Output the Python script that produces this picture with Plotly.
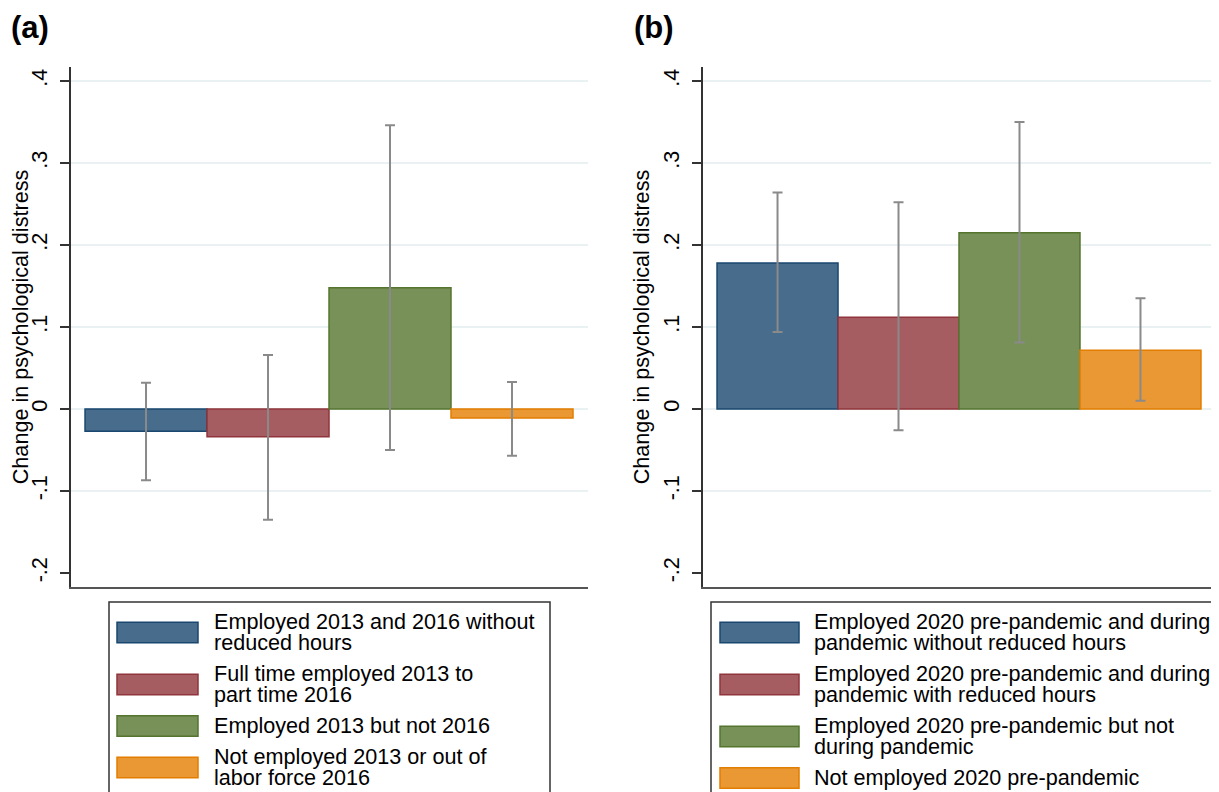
import plotly.graph_objects as go

# the page body has an 8px margin, so the figure starts at (8, 8) in the window
OFF = 8
W, H = 1219 - OFF, 792 - OFF

# ---------------- data ----------------
categories = [1, 2, 3, 4]
panel_titles = ["(a)", "(b)"]
y_title = "Change in psychological distress"
tick_vals = [-0.2, -0.1, 0, 0.1, 0.2, 0.3, 0.4]
tick_text = ["-.2", "-.1", "0", ".1", ".2", ".3", ".4"]
grid_vals = [-0.1, 0, 0.1, 0.2, 0.3, 0.4]

a_values = [-0.027, -0.034, 0.148, -0.011]
a_lower = [-0.087, -0.135, -0.050, -0.057]
a_upper = [0.032, 0.066, 0.346, 0.033]
a_labels = [
    "Employed 2013 and 2016 without\nreduced hours",
    "Full time employed 2013 to\npart time 2016",
    "Employed 2013 but not 2016",
    "Not employed 2013 or out of\nlabor force 2016",
]

b_values = [0.178, 0.112, 0.215, 0.0715]
b_lower = [0.094, -0.026, 0.081, 0.010]
b_upper = [0.264, 0.252, 0.350, 0.135]
b_labels = [
    "Employed 2020 pre-pandemic and during\npandemic without reduced hours",
    "Employed 2020 pre-pandemic and during\npandemic with reduced hours",
    "Employed 2020 pre-pandemic but not\nduring pandemic",
    "Not employed 2020 pre-pandemic",
]

fill_colors = ["#486c8c", "#a65d62", "#779159", "#e99833"]
line_colors = ["#1a476f", "#90353b", "#55752f", "#e37e00"]

FONT = "Liberation Sans, Arial, Helvetica, sans-serif"
FS = 21.6


def px(x):
    return (x - OFF) / W


def py(y):
    return 1 - (y - OFF) / H


fig = go.Figure()

panels = [
    dict(vals=a_values, lo=a_lower, hi=a_upper, labels=a_labels,
         xa="x", ya="y", x0=71, x1=588, xr=[0.385, 4.623],
         leg=(109, 550, 117, 198, 212)),
    dict(vals=b_values, lo=b_lower, hi=b_upper, labels=b_labels,
         xa="x2", ya="y2", x0=703, x1=1219, xr=[0.384, 4.649],
         leg=(711, 1215, 720, 799, 812)),
]

y_top, y_bot = 67, 587
y_range = [-0.2171, 0.4171]

shapes = []
annotations = []

for i, p in enumerate(panels):
    plus = [h - v for h, v in zip(p["hi"], p["vals"])]
    minus = [v - l for v, l in zip(p["vals"], p["lo"])]
    fig.add_trace(go.Bar(
        x=categories, y=p["vals"], width=1,
        marker=dict(color=fill_colors, line=dict(color=line_colors, width=1.5)),
        error_y=dict(type="data", symmetric=False, array=plus, arrayminus=minus,
                     color="#8a8a8a", thickness=2, width=5),
        xaxis=p["xa"], yaxis=p["ya"], showlegend=False, hoverinfo="skip",
    ))

    sfx = "" if i == 0 else "2"
    gsfx = str(3 + i)
    fig.layout["xaxis" + sfx] = dict(
        domain=[px(p["x0"]), px(p["x1"])], range=p["xr"], anchor="y" + sfx,
        showline=True, linecolor="#555555", linewidth=1.5, mirror=False,
        showticklabels=False, ticks="", showgrid=False, zeroline=False,
    )
    fig.layout["yaxis" + sfx] = dict(
        domain=[py(y_bot), py(y_top)], range=y_range, anchor="x" + sfx,
        tickmode="array", tickvals=tick_vals, ticktext=tick_text,
        tickangle=-90, ticks="outside", ticklen=9, tickwidth=1.5, tickcolor="#333333",
        ticklabelstandoff=5,
        tickfont=dict(family=FONT, size=FS, color="black"),
        showline=True, linecolor="#333333", linewidth=1.5,
        showgrid=False, zeroline=False,
        title=dict(text=y_title, font=dict(family=FONT, size=FS, color="black"), standoff=3),
    )
    fig.layout["yaxis" + gsfx] = dict(
        overlaying="y" + sfx, anchor="x" + sfx, range=y_range,
        tickmode="array", tickvals=grid_vals, showticklabels=False, ticks="",
        showline=False, zeroline=False, showgrid=True,
        gridcolor="#eaf1f2", gridwidth=1.5,
    )
    # invisible trace to activate grid overlay axis
    fig.add_trace(go.Scatter(x=[categories[0]], y=[0], mode="markers",
                             marker=dict(opacity=0), xaxis=p["xa"], yaxis="y" + gsfx,
                             showlegend=False, hoverinfo="skip"))

    # panel letter
    annotations.append(dict(
        text="<b>" + panel_titles[i] + "</b>", xref="paper", yref="paper",
        x=px(9 if i == 0 else 632), y=1, xanchor="left", yanchor="top",
        showarrow=False, font=dict(family=FONT, size=31, color="black"),
    ))

    # legend box
    bx0, bx1, sx0, sx1, tx = p["leg"]
    shapes.append(dict(type="rect", xref="paper", yref="paper",
                       x0=px(bx0), x1=px(bx1), y0=py(830), y1=py(602),
                       line=dict(color="#333333", width=1.5), fillcolor="white", layer="above"))
    baseline = 629
    for k, lab in enumerate(p["labels"]):
        lines = lab.split("\n")
        first = baseline
        for j, ln in enumerate(lines):
            annotations.append(dict(
                text=ln, xref="paper", yref="paper", x=px(tx), y=py(baseline - 7.3),
                xanchor="left", yanchor="middle", showarrow=False,
                font=dict(family=FONT, size=FS, color="black"),
            ))
            if j < len(lines) - 1:
                baseline += 21
        last = baseline
        cy = (first + last) / 2 - 7
        shapes.append(dict(type="rect", xref="paper", yref="paper",
                           x0=px(sx0), x1=px(sx1), y0=py(cy + 10.3), y1=py(cy - 10.3),
                           line=dict(color=line_colors[k], width=1.5),
                           fillcolor=fill_colors[k], layer="above"))
        baseline += 31

fig.update_layout(
    width=W, height=H, margin=dict(l=0, r=0, t=0, b=0),
    paper_bgcolor="white", plot_bgcolor="white",
    shapes=shapes, annotations=annotations, showlegend=False,
    font=dict(family=FONT, size=FS, color="black"),
)

fig.write_html("out.html")
